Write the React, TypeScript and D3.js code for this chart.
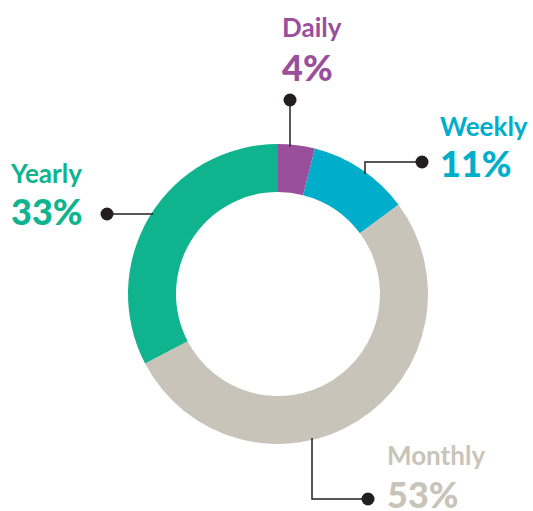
import React from "react";
import * as d3 from "d3";

const categories = ["Daily", "Weekly", "Monthly", "Yearly"];
const values = [4, 11, 53, 33];
const colors = ["#9a4f9c", "#00aecb", "#c9c4ba", "#0fb48e"];

const W = 533, H = 511;
const cx = 278, cy = 294, R = 150, r0 = 102;
const ink = "#231f20";

// label layout: text anchor position and leader line path (in px)
const layout = [
  { tx: 282, ty: 37, py: 81, dot: [290, 100], path: (rx: number) => [[290, 100], [290, cy - Math.sqrt(R * R - (290 - cx) ** 2) + 2]] },
  { tx: 440, ty: 136, py: 177, dot: [422, 162], path: () => [[422, 162], [365, 162], [365, cy - Math.sqrt(R * R - (365 - cx) ** 2) + 2]] },
  { tx: 387, ty: 465, py: 508, dot: [368, 499], path: () => [[368, 499], [312, 499], [312, cy + Math.sqrt(R * R - (312 - cx) ** 2) - 2]] },
  { tx: 11, ty: 183, py: 225, dot: [107, 214], path: () => [[107, 214], [cx - Math.sqrt(R * R - (214 - cy) ** 2) + 2, 214]] },
];

export default function App() {
  const pie = d3.pie<number>().sort(null).value((d) => d).startAngle(0).endAngle(2 * Math.PI);
  const arcs = pie(values);
  const arc = d3.arc<d3.PieArcDatum<number>>().innerRadius(r0).outerRadius(R);
  const line = d3.line();
  return (
    <svg width={W} height={H} style={{ position: "absolute", left: 0, top: 0 }} fontFamily="Lato, 'Noto Sans', sans-serif">
      <g transform={`translate(${cx},${cy})`}>
        {arcs.map((a, i) => (
          <path key={i} d={arc(a) || ""} fill={colors[i]} />
        ))}
      </g>
      {layout.map((l, i) => (
        <g key={i}>
          <path d={line(l.path(0) as [number, number][]) || ""} fill="none" stroke={ink} strokeWidth={1.5} />
          <circle cx={l.dot[0]} cy={l.dot[1]} r={6.5} fill={ink} />
          <text x={l.tx} y={l.ty} fill={colors[i]} fontSize={26} fontWeight={700}>{categories[i]}</text>
          <text x={l.tx} y={l.py} fill={colors[i]} fontSize={36} fontWeight={900}>{values[i]}%</text>
        </g>
      ))}
    </svg>
  );
}
